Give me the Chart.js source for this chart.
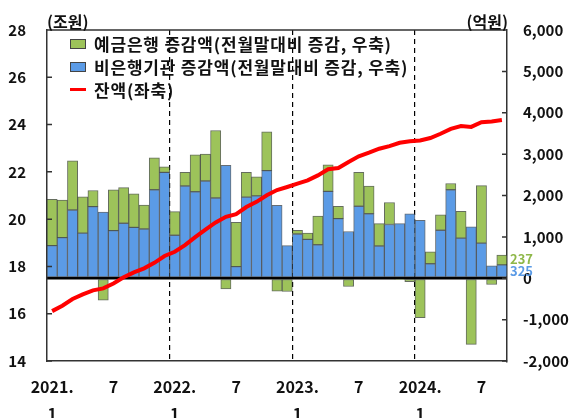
<!DOCTYPE html>
<html>
<head>
<meta charset="utf-8">
<script src="https://cdn.jsdelivr.net/npm/chart.js@4.4.1/dist/chart.umd.min.js"></script>
<style>
    body { margin: 0; background: #fff; }
    #wrap { position: relative; width: 574px; height: 418px; font-family: 'Noto Sans CJK KR', 'Noto Sans', sans-serif; }
    .unidade { position: absolute; top: 9px; font-size: 16px; font-weight: bold; color: #111; }
    #legenda { position: absolute; left: 70px; top: 32px; font-size: 17px; font-weight: bold; color: #111; letter-spacing: 0.8px; }
    .item { height: 23px; line-height: 23px; display: flex; align-items: center; }
    .caixa { width: 14px; height: 8px; border: 1px solid #444; margin-right: 8px; }
    .traco { width: 16px; height: 3px; background: #ff0000; margin-right: 8px; }
</style>
</head>
<body>
<div id="wrap">
    <canvas id="grafico" width="574" height="418"></canvas>
    <div class="unidade" style="left:47px">(조원)</div>
    <div class="unidade" style="right:66px">(억원)</div>
    <div id="legenda"></div>
</div>
<script>
// meses 2021.1 ~ 2024.9
const meses = [
    '2021.1', '2021.2', '2021.3', '2021.4', '2021.5', '2021.6', '2021.7', '2021.8', '2021.9', '2021.10', '2021.11', '2021.12',
    '2022.1', '2022.2', '2022.3', '2022.4', '2022.5', '2022.6', '2022.7', '2022.8', '2022.9', '2022.10', '2022.11', '2022.12',
    '2023.1', '2023.2', '2023.3', '2023.4', '2023.5', '2023.6', '2023.7', '2023.8', '2023.9', '2023.10', '2023.11', '2023.12',
    '2024.1', '2024.2', '2024.3', '2024.4', '2024.5', '2024.6', '2024.7', '2024.8', '2024.9'
];

// 예금은행 증감액 (억원, 우축)
const bancos = [
    1120, 910, 1190, 880, 390, -530, 990, 860, 810, 580, 770, 130,
    570, 330, 890, 650, 1630, -260, 1070, 600, 460, 940, -310, -320,
    90, 150, 690, 640, 300, -200, 820, 670, 540, 530, -30, -80,
    -950, 290, 370, 150, 650, -1600, 1390, -150, 237
];

// 비은행기관 증감액 (억원, 우축)
const naoBancos = [
    790, 980, 1650, 1090, 1730, 1600, 1150, 1330, 1230, 1190, 2140, 2560,
    1040, 2230, 2090, 2350, 1940, 2730, 280, 1960, 1990, 2600, 1760, 790,
    1070, 940, 810, 2100, 1440, 1130, 1740, 1560, 780, 1300, 1320, 1560,
    1400, 350, 1160, 2140, 970, 1240, 850, 300, 325
];

// 잔액 (조원, 좌축)
const saldo = [
    16.11, 16.34, 16.62, 16.82, 16.99, 17.07, 17.28, 17.54, 17.75, 17.92, 18.15, 18.44,
    18.62, 18.90, 19.24, 19.56, 19.86, 20.10, 20.21, 20.51, 20.73, 21.01, 21.23, 21.36,
    21.50, 21.64, 21.85, 22.11, 22.16, 22.42, 22.66, 22.81, 22.98, 23.09, 23.23, 23.29,
    23.33, 23.43, 23.61, 23.82, 23.94, 23.90, 24.10, 24.13, 24.19
];

const nomes = ['예금은행 증감액(전월말대비 증감, 우축)', '비은행기관 증감액(전월말대비 증감, 우축)', '잔액(좌축)'];
const ticksEsq = [14, 16, 18, 20, 22, 24, 26, 28];
const ticksDir = [-2000, -1000, 0, 1000, 2000, 3000, 4000, 5000, 6000];

const VERDE = '#9dc35a';
const AZUL = '#5b9be6';
const VERMELHO = '#ff0000';
const familia = "'Noto Sans CJK KR', 'Noto Sans', sans-serif";
const fonte = { family: familia, size: 15, weight: 'bold' };

function rotulo(i) {
    let partes = meses[i].split('.');
    if (partes[1] == '1') return [partes[0] + '.', '1'];
    if (partes[1] == '7') return '7';
    return '';
}

// moldura, marcas internas e rótulos finais
const extras = {
    id: 'extras',
    afterDraw(chart) {
        const ctx = chart.ctx;
        const area = chart.chartArea;
        const y = chart.scales.y;
        const y1 = chart.scales.y1;
        ctx.save();
        ctx.strokeStyle = '#333';
        ctx.lineWidth = 1.5;
        ctx.beginPath();
        ctx.moveTo(area.left, area.top);
        ctx.lineTo(area.right, area.top);
        ticksEsq.forEach(v => {
            let p = y.getPixelForValue(v);
            ctx.moveTo(area.left, p);
            ctx.lineTo(area.left + 5, p);
        });
        ticksDir.forEach(v => {
            let p = y1.getPixelForValue(v);
            ctx.moveTo(area.right, p);
            ctx.lineTo(area.right - 5, p);
        });
        ctx.stroke();

        let ult = meses.length - 1;
        let barra = chart.getDatasetMeta(1).data[ult];
        let xr = barra.x + barra.width / 2 + 3;
        ctx.font = 'bold 13px ' + familia;
        ctx.textBaseline = 'middle';
        ctx.textAlign = 'left';
        ctx.fillStyle = '#8fb84a';
        ctx.fillText(String(bancos[ult]), xr, y1.getPixelForValue(naoBancos[ult] + bancos[ult]) + 4);
        ctx.fillStyle = AZUL;
        ctx.fillText(String(naoBancos[ult]), xr, y1.getPixelForValue(naoBancos[ult] / 2));
        ctx.restore();
    }
};

const chart = new Chart(document.getElementById('grafico'), {
    type: 'bar',
    data: {
        labels: meses,
        datasets: [
            {
                type: 'line', label: nomes[2], data: saldo, yAxisID: 'y', order: 0,
                borderColor: VERMELHO, borderWidth: 4, pointRadius: 0, tension: 0
            },
            {
                label: nomes[1], data: naoBancos, yAxisID: 'y1', order: 1, stack: 's',
                backgroundColor: AZUL, borderColor: 'rgba(50,60,70,0.75)', borderWidth: 1, borderSkipped: false,
                barPercentage: 1, categoryPercentage: 1
            },
            {
                label: nomes[0], data: bancos, yAxisID: 'y1', order: 1, stack: 's',
                backgroundColor: VERDE, borderColor: 'rgba(50,60,40,0.75)', borderWidth: 1, borderSkipped: false,
                barPercentage: 1, categoryPercentage: 1
            }
        ]
    },
    options: {
        responsive: false,
        animation: false,
        layout: { padding: { top: 30, left: 0, right: 0, bottom: 0 } },
        plugins: { legend: { display: false }, tooltip: { enabled: false } },
        scales: {
            x: {
                stacked: true,
                afterFit: s => { s.height = 57; },
                grid: {
                    offset: true, drawTicks: false, lineWidth: 1.2,
                    color: c => (c.index > 0 && c.index % 12 == 0) ? '#000' : 'rgba(0,0,0,0)'
                },
                border: { display: true, color: '#333', width: 1.5, dash: [5, 4] },
                ticks: {
                    autoSkip: false, maxRotation: 0, minRotation: 0, padding: 12, color: '#111',
                    font: { family: familia, size: 16, weight: 'bold', lineHeight: 1.7 },
                    callback: (v, i) => rotulo(i)
                }
            },
            y: {
                position: 'left', min: 14, max: 28,
                afterFit: s => { s.width = 47; },
                afterBuildTicks: s => { s.ticks = ticksEsq.map(v => ({ value: v })); },
                grid: { display: false, drawTicks: false },
                border: { display: true, color: '#333', width: 1.5 },
                ticks: { padding: 21, color: '#111', font: fonte }
            },
            y1: {
                position: 'right', min: -2000, max: 6000, stacked: true, z: 1,
                afterFit: s => { s.width = 67; },
                afterBuildTicks: s => { s.ticks = ticksDir.map(v => ({ value: v })); },
                grid: {
                    drawTicks: false, lineWidth: 2.5,
                    color: c => (c.tick && c.tick.value === 0) ? '#000' : 'rgba(0,0,0,0)'
                },
                border: { display: true, color: '#333', width: 1.5 },
                ticks: { padding: 16, color: '#111', font: fonte, callback: v => v.toLocaleString('en-US') }
            }
        }
    },
    plugins: [extras]
});

// legenda
const legenda = document.getElementById('legenda');
[[VERDE, 'caixa'], [AZUL, 'caixa'], [VERMELHO, 'traco']].forEach((m, i) => {
    let item = document.createElement('div');
    item.className = 'item';
    let marca = document.createElement('span');
    marca.className = m[1];
    marca.style.background = m[0];
    let txt = document.createElement('span');
    txt.innerHTML = nomes[i];
    item.appendChild(marca);
    item.appendChild(txt);
    legenda.appendChild(item);
});
</script>
</body>
</html>
